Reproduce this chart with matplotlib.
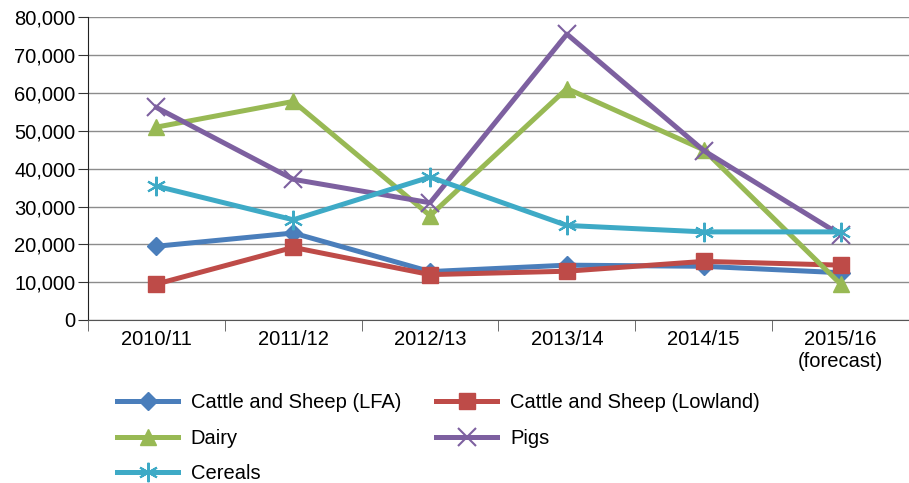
import numpy as np
import matplotlib.pyplot as plt
from matplotlib.ticker import FuncFormatter

plt.rcParams['font.family'] = ['Liberation Sans', 'DejaVu Sans']

years = ["2010/11", "2011/12", "2012/13", "2013/14", "2014/15", "2015/16\n(forecast)"]
lfa = [19500, 23000, 12800, 14500, 14200, 12500]
lowland = [9500, 19200, 12000, 12900, 15500, 14500]
dairy = [51000, 57800, 27600, 61200, 45000, 9500]
pigs = [56200, 37200, 31000, 75600, 44800, 22500]
cereals = [35400, 26500, 37800, 25000, 23300, 23300]

fig = plt.figure(figsize=(9.09, 4.83), dpi=100)
ax = fig.add_axes([0.0968, 0.3375, 0.9032, 0.6263])

x = np.arange(len(years))
lw = 3.6
l1, = ax.plot(x, lfa, color='#4a7ebb', lw=lw, marker='D', ms=9, label='Cattle and Sheep (LFA)', zorder=3)
l2, = ax.plot(x, lowland, color='#be4b48', lw=lw, marker='s', ms=11, label='Cattle and Sheep (Lowland)', zorder=3)
l3, = ax.plot(x, dairy, color='#98b954', lw=lw, marker='^', ms=12, label='Dairy', zorder=3)
l4, = ax.plot(x, pigs, color='#7d60a0', lw=lw, marker='x', ms=13, mew=1.5, label='Pigs', zorder=3)
l5, = ax.plot(x, cereals, color='#3eaac6', lw=lw, marker=(6, 2, 0), ms=14, mew=1.5, label='Cereals', zorder=3)

ax.set_xlim(-0.5, 5.5)
ax.set_ylim(0, 80000)
ax.set_yticks(range(0, 80001, 10000))
ax.yaxis.set_major_formatter(FuncFormatter(lambda v, p: f"{int(v):,}"))
ax.yaxis.grid(True, color='#8c8c8c', lw=1)
ax.set_axisbelow(True)
ax.tick_params(axis='y', length=7, labelsize=14.5, color='#333333', pad=2)
ax.set_xticks(x)
ax.set_xticklabels(years)
ax.set_xticks(np.arange(-0.5, 6, 1), minor=True)
ax.tick_params(axis='x', which='major', length=0, labelsize=14.5, pad=7)
ax.tick_params(axis='x', which='minor', length=8, direction='out', color='#555555')
for s in ['top', 'right']:
    ax.spines[s].set_visible(False)
ax.spines['left'].set_color('#222222')
ax.spines['bottom'].set_color('#555555')

fig.legend(handles=[l1, l3, l5, l2, l4], loc='upper left', bbox_to_anchor=(0.118, 0.207),
           ncol=2, frameon=False, fontsize=14.5, handlelength=3, handletextpad=0.65,
           columnspacing=1.75, labelspacing=0.82, borderpad=0)

fig.savefig('out.png', dpi=100)
